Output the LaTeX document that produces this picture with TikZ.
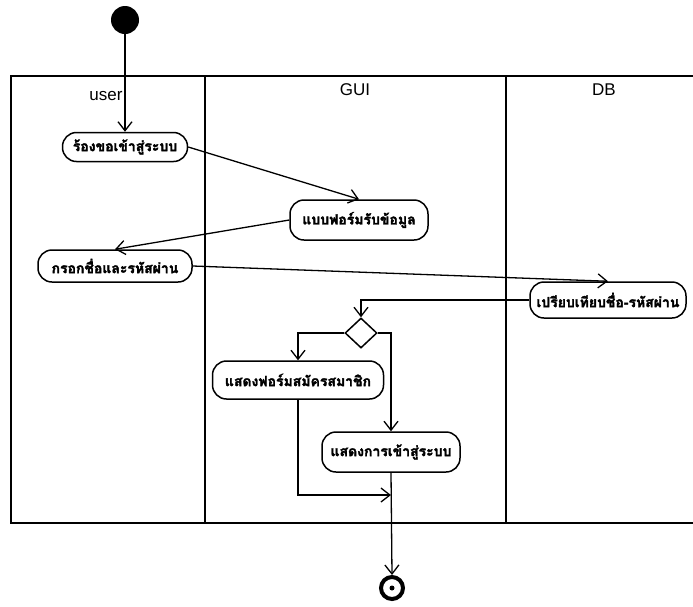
\documentclass[tikz,border=0pt]{standalone}
\usepackage{fontspec}
\setmainfont{Liberation Sans}
\newfontfamily\thaifont[Script=Thai, FakeBold=2.2]{Loma}
\usetikzlibrary{arrows.meta,shapes.geometric}

\begin{document}
\begin{tikzpicture}[x=1pt, y=-1pt,
  lane/.style={line width=1.6pt},
  lanetitle/.style={font=\fontsize{17}{19}\selectfont},
  act/.style={draw, line width=1.5pt, rounded corners=14pt, inner sep=0pt,
    font=\thaifont\bfseries\fontsize{14}{16}\selectfont},
  flow/.style={line width=1.3pt, -{Straight Barb[length=9pt, width=14pt, line width=1.3pt]}},
  decision/.style={draw, line width=1.5pt, shape=diamond, inner sep=0pt,
    minimum width=32pt, minimum height=30pt},
  startnode/.style={circle, fill=black, minimum size=28pt, inner sep=0pt},
  endnode/.style={circle, draw, line width=4pt, minimum size=22pt, inner sep=0pt}
]
\useasboundingbox (0,0) rectangle (693,606);

% swimlane frame
\draw[lane] (693,76) -- (11,76) -- (11,523) -- (693,523);
\draw[lane] (205,76) -- (205,523);
\draw[lane] (506,76) -- (506,523);
\node[lanetitle] (tuser) at (106,96) {user};
\node[lanetitle] (tgui) at (355,90) {GUI};
\node[lanetitle] (tdb) at (604,90) {DB};

% activities
\node[startnode] (start) at (125,20) {};
\node[act, minimum width=125pt, minimum height=29pt] (a1) at (125,147) {ร้องขอเข้าสู่ระบบ};
\node[act, minimum width=138pt, minimum height=40pt] (a2) at (359,220) {แบบฟอร์มรับข้อมูล};
\node[act, minimum width=154pt, minimum height=32pt] (a3) at (115,266) {กรอกชื่อและรหัสผ่าน};
\node[act, minimum width=156pt, minimum height=36pt] (a4) at (608,300) {เปรียบเทียบชื่อ-รหัสผ่าน};
\node[decision] (d1) at (361,333) {};
\node[act, minimum width=171pt, minimum height=38pt] (a5) at (298,380) {แสดงฟอร์มสมัครสมาชิก};
\node[act, minimum width=138pt, minimum height=40pt] (a6) at (391,452) {แสดงการเข้าสู่ระบบ};
\node[endnode] (end) at (392,588) {};
\fill (end.center) circle (2.5pt);
\coordinate (merge) at (391,495);

% control flow
\draw[flow] (start) -- (a1);
\draw[flow] (a1.east) -- (a2.north);
\draw[flow] (a2.west) -- (a3.north);
\draw[flow] (a3.east) -- (a4.north);
\draw[flow] (a4.west) -| (d1.north);
\draw[flow] (d1.west) -| (a5.north);
\draw[flow] (d1.east) -| (a6.north);
\draw[flow] (a5.south) |- (merge);
\draw[flow] (a6.south) -- (end.north);
\end{tikzpicture}
\end{document}
